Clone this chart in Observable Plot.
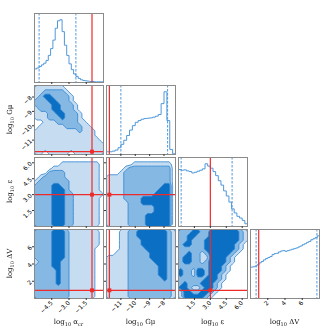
<!DOCTYPE html>
<html><head><meta charset="utf-8">
<script src="https://cdn.jsdelivr.net/npm/d3@7"></script>
<script src="https://cdn.jsdelivr.net/npm/@observablehq/plot@0.6"></script>
<style>
body{margin:0;background:#fff}
#wrap{position:relative;width:333px;height:333px;overflow:hidden;background:#fff}
.p{position:absolute}
#titles{position:absolute;left:0;top:0;pointer-events:none;will-change:transform;opacity:0.999}
</style></head><body><div id="wrap"></div>
<script>
// ---- parameters / axes ----
const paramKeys = ["acr","gmu","eps","dv"];
const acrDomain = [-6, 0];
const gmuDomain = [-12, -7.2];
const epsDomain = [0, 6.5];
const dvDomain = [0, 8];
const acrTicks = [-4.5, -3, -1.5];
const gmuTicks = [-11, -10, -9, -8];
const epsTicks = [1.5, 3, 4.5, 6];
const dvTicks = [2, 4, 6];
const acrTickLabels = ["−4.5", "−3.0", "−1.5"];
const gmuTickLabels = ["−11", "−10", "−9", "−8"];
const epsTickLabels = ["1.5", "3.0", "4.5", "6.0"];
const dvTickLabels = ["2", "4", "6"];
// axis titles: [main, subscript, main, subscript]
const axisTitleParts = [["log", "10", " α", "cr"], ["log", "10", " Gμ", ""], ["log", "10", " ε", ""], ["log", "10", " ΔV", ""]];
const truthValues = [-1.0, -11.8, 3.0, 0.95];
const acrQuantiles = [-5.6, -2.4];
const gmuQuantiles = [-11.0, -7.75];
const epsQuantiles = [0.25, 5.05];
const dvQuantiles = [0.65, 7.7];

// ---- 1D histograms (counts, first bin edge, bin width) ----
const acrHist = [40,43,47,52,57,65,80,100,125,160,182,185,150,110,80,55,38,25,18,12,8,6,5,4,3,3,2,2,2,2];
const acrBins = [-6, 0.2];
const gmuHist = [8,8,10,13,20,30,42,56,72,85,95,100,104,106,107,108,110,113,118,150,185,100,15,2];
const gmuBins = [-12, 0.2];
const epsHist = [168,166,167,164,162,158,160,163,166,170,185,178,172,162,150,135,122,105,90,72,52,40,30,25,18,8];
const epsBins = [0, 0.25];
const dvHist = [95,96,98,102,108,112,117,121,124,127,133,136,137,141,144,145,143,145,147,149,151,153,156,159,163,166,170,173,178,181,185,190];
const dvBins = [0, 0.25];

// ---- 2D density levels (0 outside, 1..3 credible levels), rows top -> bottom ----
const gridGmuAcr = [
"1111111000000000",
"1122222100000000",
"1233222210000000",
"2223322210000000",
"2222332221000000",
"1222332221000000",
"1112233222100000",
"1112223222100000",
"0011122222110000",
"0111111222211000",
"1111111111211100",
"1111111111111100",
"1111111111111110",
"1111111111111111",
"1111111111111111",
"1101111101111111"];
const gridEpsAcr = [
"0000000000000000",
"0000001111111110",
"0000111111111110",
"0002222111111110",
"0122222111111110",
"1222222211111110",
"2222332211111110",
"2222333211111110",
"2222333221111111",
"2222333221111110",
"2222333221111110",
"2222333221111110",
"2222333221111110",
"2222333221111110",
"2222333221111110",
"2222333221111110"];
const gridEpsGmu = [
"0000000000000000",
"0000001111111110",
"0000122222222220",
"0001222222222220",
"1111222222222220",
"1111222222222220",
"1111222222222330",
"1111222222223330",
"1111222222233330",
"1111222233333330",
"1111122233333330",
"1111122222233330",
"1111122222233330",
"1111122223333330",
"1111122223333330",
"1111122223333330"];
const gridDvAcr = [
"2222333211111110",
"2222333211111110",
"2222333211111110",
"2222333211111110",
"2222333211111100",
"2222333211111100",
"2222333211111100",
"1222332211111100",
"2222332211111100",
"2222232211111100",
"2222232211111100",
"2222232211111100",
"2222232211111100",
"2222222211111100",
"2222222211111100",
"2222222211111100"];
const gridDvGmu = [
"0001122333333321",
"0001122333333321",
"0001122233333321",
"0001122233333321",
"0001122223333321",
"0011122222333321",
"1111122222333321",
"1111122222233321",
"1111122222223321",
"1111122222223321",
"1111122222223321",
"1111122222222321",
"1111122222222221",
"1111122222222221",
"1111122222222221",
"1111122222222221"];
const gridDvEps = [
"2223322333333321",
"2233222333333321",
"2232223333333321",
"2332223333333210",
"2222223333333210",
"2232212333332100",
"2332211333321000",
"2332212333321000",
"2222222333210000",
"3221332333210000",
"3221332332100000",
"2222223332100000",
"2322233321000000",
"3321123321000000",
"1332233210000000",
"1333332100000000"];

// ---- styling ----
const COLX = [34, 106, 178, 250], ROWY = [13, 85, 157, 229], SIZE = 69;
const FILLS = ["#c6dcf0", "#86b8e4", "#0b6fc3"];
const LINE = "#2d84d2";
const HISTC = "#4f98da";
const RED = "#ee2b2b";

const domains = [acrDomain, gmuDomain, epsDomain, dvDomain];
const ticks = [acrTicks, gmuTicks, epsTicks, dvTicks];
const tickLabels = [acrTickLabels, gmuTickLabels, epsTickLabels, dvTickLabels];
const quantiles = [acrQuantiles, gmuQuantiles, epsQuantiles, dvQuantiles];
const hists = [[acrHist, acrBins], [gmuHist, gmuBins], [epsHist, epsBins], [dvHist, dvBins]];
const grids = {"1,0": gridGmuAcr, "2,0": gridEpsAcr, "2,1": gridEpsGmu, "3,0": gridDvAcr, "3,1": gridDvGmu, "3,2": gridDvEps};

const wrap = document.getElementById("wrap");
const fmt = (i) => (v) => tickLabels[i][ticks[i].indexOf(v)] ?? "";

function xAxis(c, labelled) {
  return Plot.axisX({ticks: ticks[c], tickSize: 2, tickPadding: 1.5, tickRotate: labelled ? -45 : 0,
    tickFormat: labelled ? fmt(c) : () => "", label: null, fontSize: 6, stroke: "#333"});
}
function yAxis(r, labelled) {
  return Plot.axisY({ticks: ticks[r], tickSize: 2, tickPadding: 1.5, tickRotate: labelled ? -45 : 0,
    tickFormat: labelled ? fmt(r) : () => "", label: null, fontSize: 6, stroke: "#333"});
}

function histPanel(i) {
  const [counts, [start, w]] = hists[i];
  const pts = [{x: start, y: 0}];
  counts.forEach((v, k) => { pts.push({x: start + k * w, y: v}); pts.push({x: start + (k + 1) * w, y: v}); });
  pts.push({x: start + counts.length * w, y: 0});
  const ymax = d3.max(counts) * 1.1;
  return Plot.plot({
    width: SIZE, height: SIZE, margin: 0,
    style: {overflow: "visible", fontFamily: "DejaVu Sans", background: "transparent"},
    x: {domain: domains[i]}, y: {domain: [0, ymax], axis: null},
    marks: [
      Plot.line(pts, {x: "x", y: "y", stroke: HISTC, strokeWidth: 1, clip: "frame"}),
      Plot.ruleX(quantiles[i], {stroke: HISTC, strokeDasharray: "2.5,1.5", strokeWidth: 1}),
      Plot.ruleX([truthValues[i]], {stroke: RED, strokeWidth: 1.2}),
      Plot.frame({stroke: "#8a8a8a", strokeWidth: 1}),
      xAxis(i, i === 3)
    ]
  });
}

function contourPanel(r, c) {
  const rows = grids[r + "," + c];
  const h = rows.length, w = rows[0].length;
  const values = rows.flatMap(s => [...s].map(Number));
  const xd = domains[c], yd = domains[r];
  const conts = [0.5, 1.5, 2.5].map((t, k) => Plot.contour(values, {
    width: w, height: h, x1: xd[0], x2: xd[1], y1: yd[1], y2: yd[0],
    value: d => d, thresholds: [t], fill: FILLS[k], stroke: LINE, strokeWidth: 0.8, clip: "frame"}));
  return Plot.plot({
    width: SIZE, height: SIZE, margin: 0,
    style: {overflow: "visible", fontFamily: "DejaVu Sans", background: "transparent"},
    x: {domain: xd}, y: {domain: yd},
    marks: [
      ...conts,
      Plot.ruleX([truthValues[c]], {stroke: RED, strokeWidth: 1.2}),
      Plot.ruleY([truthValues[r]], {stroke: RED, strokeWidth: 1.2}),
      Plot.dot([[truthValues[c], truthValues[r]]], {x: d => d[0], y: d => d[1], symbol: "square", r: 2.2, fill: RED}),
      Plot.frame({stroke: "#8a8a8a", strokeWidth: 1}),
      xAxis(c, r === 3),
      yAxis(r, c === 0)
    ]
  });
}

for (let r = 0; r < 4; r++) {
  for (let c = 0; c <= r; c++) {
    const svg = r === c ? histPanel(r) : contourPanel(r, c);
    const div = document.createElement("div");
    div.className = "p";
    div.style.left = COLX[c] + "px";
    div.style.top = ROWY[r] + "px";
    div.appendChild(svg);
    wrap.appendChild(div);
  }
}

// axis titles as SVG text with subscripts
const tsvg = d3.select(wrap).append("svg").attr("id", "titles").attr("width", 333).attr("height", 333);
function title(g, parts) {
  const t = g.append("text").attr("text-anchor", "middle")
    .style("font-family", "'DejaVu Serif','Liberation Serif',serif").style("font-size", "7px").attr("fill", "#111");
  for (let k = 0; k < parts.length; k += 2) {
    if (parts[k]) t.append("tspan").attr("dy", k === 0 ? 0 : "-1.6").text(parts[k]);
    if (parts[k + 1]) t.append("tspan").attr("dy", "1.6").style("font-size", "5px").text(parts[k + 1]);
  }
}
paramKeys.forEach((k, i) => {
  title(tsvg.append("g").attr("transform", `translate(${COLX[i] + SIZE / 2},324) rotate(0.01)`), axisTitleParts[i]);
  if (i > 0) title(tsvg.append("g").attr("transform", `translate(12,${ROWY[i] + SIZE / 2}) rotate(-90)`), axisTitleParts[i]);
});
</script></body></html>
